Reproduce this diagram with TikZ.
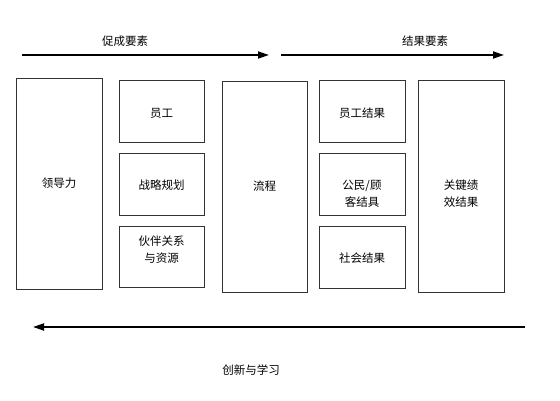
\documentclass[tikz,border=0pt]{standalone}
\usepackage{fontspec}
\setmainfont{Noto Sans CJK SC}
\usetikzlibrary{arrows.meta}
\begin{document}
\begin{tikzpicture}[x=1pt,y=-1pt,
  box/.style={draw=black!80,line width=0.9pt,inner sep=0pt,font=\fontsize{11.5}{17}\selectfont,align=center},
  txt/.style={inner sep=0pt,font=\fontsize{11.5}{17}\selectfont,align=center},
  flow/.style={line width=1.8pt,-{Triangle[length=11pt,width=7pt]}},
  lbl/.style={font=\fontsize{11.5}{14}\selectfont}]
\useasboundingbox[fill=white] (0,0) rectangle (560,401);
% boxes
\node[box,minimum width=86pt,minimum height=211pt] (lead) at (59,183.5) {领导力};
\node[box,minimum width=85pt,minimum height=62pt] (emp) at (161.5,111) {};
\node[txt] (emptxt) at (161.5,113) {员工};
\node[box,minimum width=85pt,minimum height=62pt] (strat) at (161.5,184) {};
\node[txt] (strattxt) at (161.5,185) {战略规划};
\node[box,minimum width=85pt,minimum height=61pt] (part) at (161.5,256.5) {};
\node[txt] (parttxt) at (161.5,250) {伙伴关系\\与资源};
\node[box,minimum width=85pt,minimum height=211pt] (proc) at (264.5,186.5) {流程};
\node[box,minimum width=86pt,minimum height=62pt] (empres) at (362,111) {};
\node[txt] (emprestxt) at (362,113) {员工结果};
\node[box,minimum width=86pt,minimum height=62pt] (custres) at (362,184) {};
\node[txt] (custrestxt) at (362,194) {公民/顾\\客结具};
\node[box,minimum width=86pt,minimum height=62pt] (socres) at (362,257) {};
\node[txt] (socrestxt) at (362,258) {社会结果};
\node[box,minimum width=86pt,minimum height=212pt] (kpi) at (461,186) {};
\node[txt] (kpitxt) at (461,194) {关键绩\\效结果};
% arrows
\coordinate (a1s) at (22,55);
\coordinate (a1e) at (269,55);
\coordinate (a2s) at (281,55);
\coordinate (a2e) at (504,55);
\coordinate (a3s) at (525,327);
\coordinate (a3e) at (33,327);
\draw[flow] (a1s) -- (a1e);
\draw[flow] (a2s) -- (a2e);
\draw[flow] (a3s) -- (a3e);
\node[lbl] (l1) at (125,41) {促成要素};
\node[lbl] (l2) at (425,41) {结果要素};
\node[lbl] (l3) at (251,370) {创新与学习};
\end{tikzpicture}
\end{document}
